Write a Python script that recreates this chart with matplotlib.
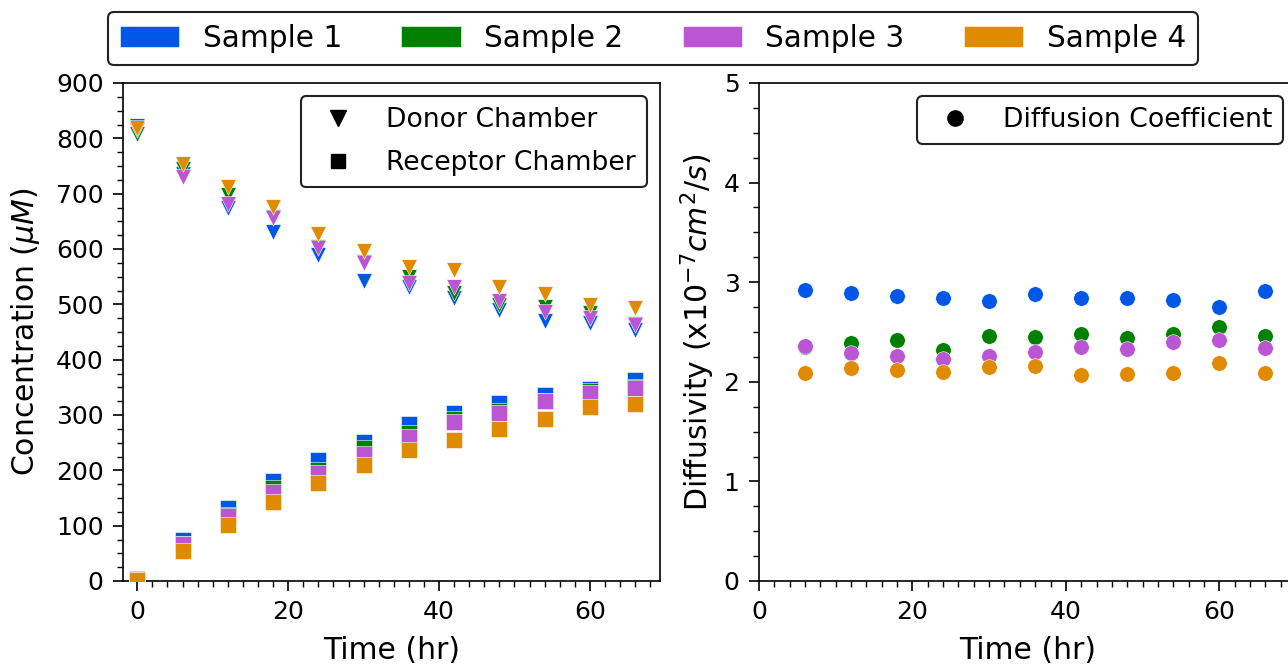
import numpy as np
import matplotlib
matplotlib.use('Agg')
import matplotlib.pyplot as plt
from matplotlib.patches import Patch
from matplotlib.lines import Line2D
from matplotlib.ticker import MultipleLocator

plt.rcParams['font.family'] = 'DejaVu Sans'
plt.rcParams['font.size'] = 18
plt.rcParams['mathtext.default'] = 'it'

# time points (hr)
time = [0, 6, 12, 18, 24, 30, 36, 42, 48, 54, 60, 66]
time_d = [6, 12, 18, 24, 30, 36, 42, 48, 54, 60, 66]

samples = ['Sample 1', 'Sample 2', 'Sample 3', 'Sample 4']
colors = ['#0057e7', '#008000', '#ba55d3', '#e08a00']

# donor chamber concentration (uM)
donor1 = [822, 736, 674, 631, 589, 542, 532, 511, 490, 470, 466, 454]
donor2 = [808, 745, 697, 658, 604, 577, 550, 520, 499, 496, 484, 465]
donor3 = [815, 731, 681, 656, 602, 575, 538, 532, 506, 487, 475, 463]
donor4 = [818, 753, 712, 676, 628, 597, 568, 562, 532, 519, 499, 493]

# receptor chamber concentration (uM)
recep1 = [4, 74, 132, 180, 219, 251, 283, 303, 322, 336, 347, 364]
recep2 = [3, 66, 120, 168, 200, 240, 267, 293, 308, 326, 343, 351]
recep3 = [2, 66, 117, 161, 196, 230, 260, 287, 304, 325, 340, 348]
recep4 = [1, 54, 102, 142, 177, 210, 237, 254, 275, 293, 314, 320]

# diffusion coefficient (x10^-7 cm^2/s)
diff1 = [2.92, 2.89, 2.86, 2.84, 2.815, 2.88, 2.84, 2.845, 2.82, 2.755, 2.91]
diff2 = [2.35, 2.386, 2.42, 2.319, 2.46, 2.447, 2.48, 2.437, 2.477, 2.547, 2.46]
diff3 = [2.362, 2.286, 2.259, 2.228, 2.259, 2.302, 2.352, 2.326, 2.402, 2.42, 2.342]
diff4 = [2.091, 2.135, 2.118, 2.101, 2.151, 2.161, 2.067, 2.077, 2.091, 2.185, 2.085]

donor = [donor1, donor2, donor3, donor4]
recep = [recep1, recep2, recep3, recep4]
diff = [diff1, diff2, diff3, diff4]

W, H = 1288, 664
fig = plt.figure(figsize=(W / 100, H / 100), dpi=100)
ax1 = fig.add_axes([123 / W, 1 - 581 / H, 537 / W, 498 / H])
ax2 = fig.add_axes([759 / W, 1 - 581 / H, 537 / W, 498 / H])

ms = 125
for i in range(4):
    ax1.scatter(time, donor[i], marker='v', s=ms, color=colors[i],
                edgecolor='white', linewidth=0.4, zorder=3)
for i in range(4):
    ax1.scatter(time, recep[i], marker='s', s=ms, color=colors[i],
                edgecolor='white', linewidth=0.4, zorder=3)
for i in range(4):
    ax2.scatter(time_d, diff[i], marker='o', s=ms, color=colors[i],
                edgecolor='white', linewidth=0.4, zorder=3)

ax1.set_xlim(-1.9, 69.3)
ax1.set_ylim(0, 900)
ax1.xaxis.set_major_locator(MultipleLocator(20))
ax1.xaxis.set_minor_locator(MultipleLocator(2))
ax1.yaxis.set_major_locator(MultipleLocator(100))
ax1.yaxis.set_minor_locator(MultipleLocator(25))
ax1.set_xlabel('Time (hr)', fontsize=21.5, labelpad=8)
ax1.set_ylabel(r'Concentration ($\mu M$)', fontsize=21.5, labelpad=10)

ax2.set_xlim(0, 70)
ax2.set_ylim(0, 5)
ax2.xaxis.set_major_locator(MultipleLocator(20))
ax2.xaxis.set_minor_locator(MultipleLocator(2))
ax2.yaxis.set_major_locator(MultipleLocator(1))
ax2.yaxis.set_minor_locator(MultipleLocator(0.25))
ax2.set_xlabel('Time (hr)', fontsize=21.5, labelpad=8)
ax2.set_ylabel(r'Diffusivity ($\mathrm{x}10^{-7}cm^2/s$)', fontsize=21.5, labelpad=5)

for ax in (ax1, ax2):
    ax.tick_params(which='major', length=7, width=1.2, pad=7, labelsize=18)
    ax.tick_params(which='minor', length=4, width=1)
    for sp in ax.spines.values():
        sp.set_linewidth(1.2)

h1 = [Line2D([], [], marker='v', color='black', linestyle='none', markersize=12),
      Line2D([], [], marker='s', color='black', linestyle='none', markersize=10)]
leg1 = ax1.legend(h1, ['Donor Chamber', 'Receptor Chamber'], loc='upper right',
                  fontsize=19.2, labelspacing=0.65)
h2 = [Line2D([], [], marker='o', color='black', linestyle='none', markersize=11)]
leg2 = ax2.legend(h2, ['Diffusion Coefficient'], loc='upper right',
                  fontsize=19.2)

hs = [Patch(facecolor=c, edgecolor='white', linewidth=0.4) for c in colors]
leg3 = fig.legend(hs, samples, loc='upper center', ncol=4, borderaxespad=0,
                  bbox_to_anchor=(0.507, 1 - 12 / H), fontsize=21.3)

for lg in (leg1, leg2, leg3):
    lg.get_frame().set_edgecolor('#222222')
    lg.get_frame().set_linewidth(1.5)
    lg.get_frame().set_alpha(1)

fig.savefig('out.png', dpi=100)
